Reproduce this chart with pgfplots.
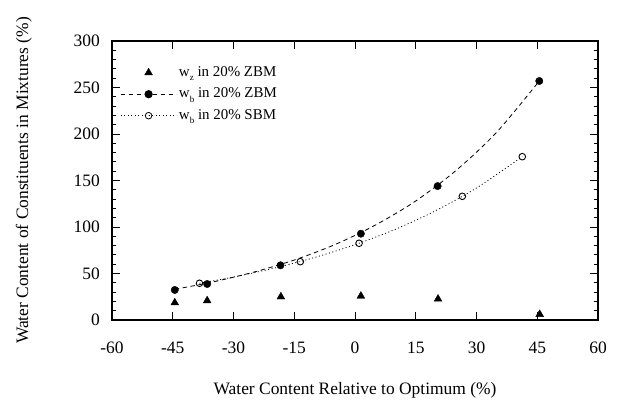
\documentclass[border=0pt]{standalone}
\usepackage{fontspec}
\setmainfont{Liberation Serif}
\usepackage{pgfplots}
\pgfplotsset{compat=1.18}
\pgfplotsset{
    mylegimg/.style={legend image code/.code={%
        \draw[mark repeat=2,mark phase=2,##1] plot coordinates {(0bp,0bp) (28bp,0bp) (56bp,0bp)};}},
}

\begin{document}
\begin{tikzpicture}
\useasboundingbox (-112bp,-80bp) rectangle (507bp,320bp);
\begin{axis}[
    at={(0,0)}, anchor=south west,
    scale only axis, width=486bp, height=279bp,
    xmin=-60, xmax=60, ymin=0, ymax=300,
    xtick={-60,-45,...,60}, ytick={0,50,...,300},
    minor y tick num=4,
    xtick pos=both, ytick pos=both,
    xticklabel pos=lower, yticklabel pos=left,
    tick align=inside,
    major tick length=8bp, minor tick length=4bp,
    every tick/.style={black, line width=0.9bp},
    axis line style={line width=1.6bp},
    /pgf/number format/assume math mode=true,
    tick label style={font=\fontsize{17.5}{20}\selectfont},
    xticklabel style={anchor=base, yshift=-33bp},
    yticklabel style={anchor=east, inner sep=0pt, xshift=-12bp},
    label style={font=\fontsize{17.5}{20}\selectfont},
    xlabel={Water Content Relative to Optimum (\%)},
    ylabel={Water Content of Constituents in Mixtures (\%)},
    xlabel style={at={(axis description cs:0.5,-0.267)}, anchor=base},
    ylabel style={at={(axis description cs:-0.1728,0.5)}, anchor=base},
    legend style={at={(axis description cs:0,1)}, anchor=north west,
        xshift=8bp, yshift=-25bp, draw=none, fill=none, inner sep=0pt,
        row sep=8.5bp, column sep=2bp,
        nodes={inner sep=0pt, text height=10bp, text depth=3bp},
        font=\fontsize{15}{15}\selectfont},
    legend cell align=left,
    clip=false,
]
% legend
\addlegendimage{only marks, mark=triangle*, mark size=4.5bp, black, mylegimg}
\addlegendentry{w\raisebox{-4.5bp}{\fontsize{9}{9}\selectfont z} in 20\% ZBM}
\addlegendimage{black, line width=0.8bp, dash pattern=on 4.5bp off 3.5bp, mark=*, mark size=3.7bp, mark options={solid}, mylegimg}
\addlegendentry{w\raisebox{-4.5bp}{\fontsize{9}{9}\selectfont b} in 20\% ZBM}
\addlegendimage{black, line width=0.8bp, dash pattern=on 1bp off 2.5bp, mark=o, mark size=3.3bp, mark options={solid, fill=white}, mylegimg}
\addlegendentry{w\raisebox{-4.5bp}{\fontsize{9}{9}\selectfont b} in 20\% SBM}

% fitted curves
\addplot[forget plot, black, line width=0.8bp, dash pattern=on 4.5bp off 3.5bp, smooth] coordinates {
    (-44.5,33) (-35,41) (-25,51.5) (-15,64.5) (-5,81) (5,102) (15,128) (25,161) (35,202) (45.5,257)
};
\addplot[forget plot, black, line width=0.8bp, dash pattern=on 1bp off 2.5bp, smooth] coordinates {
    (-38.4,39.5) (-30,46.2) (-20,55.7) (-10,67.2) (0,81) (10,97.6) (20,117.7) (30,142) (41.3,175.6)
};

% w_z in 20% ZBM
\addplot[forget plot, only marks, mark=triangle*, mark size=4.5bp, black] coordinates {
    (-44.5,18.6) (-36.5,20.8) (-18.3,25) (1.45,25.8) (20.5,22.6) (45.6,6.1)
};
% w_b in 20% ZBM
\addplot[forget plot, only marks, mark=*, mark size=3.7bp, black] coordinates {
    (-44.5,32.3) (-36.5,38.7) (-18.4,58.8) (1.45,92.8) (20.4,144) (45.5,257)
};
% w_b in 20% SBM
\addplot[forget plot, only marks, mark=o, mark size=3.3bp, black, mark options={fill=white, line width=0.9bp}] coordinates {
    (-38.4,39.5) (-13.5,62.7) (1.0,82.5) (26.5,133) (41.3,175.6)
};
\end{axis}
\end{tikzpicture}
\end{document}
